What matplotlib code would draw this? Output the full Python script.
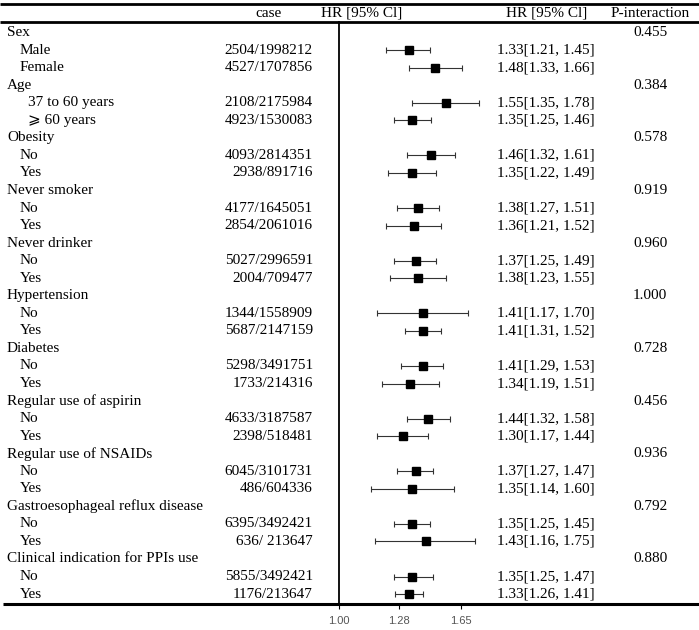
import numpy as np
import matplotlib
matplotlib.use("Agg")
import matplotlib.pyplot as plt
import matplotlib.transforms as mtransforms
from matplotlib.ticker import NullLocator, FixedLocator, FixedFormatter

# ---------------- data ----------------
groups = ["Sex", "Age", "Obesity", "Never smoker", "Never drinker", "Hypertension",
          "Diabetes", "Regular use of aspirin", "Regular use of NSAIDs",
          "Gastroesophageal reflux disease", "Clinical indication for PPIs use"]
p_interaction = ["0.455", "0.384", "0.578", "0.919", "0.960", "1.000",
                 "0.728", "0.456", "0.936", "0.792", "0.880"]
sub_labels = [["Male", "Female"], ["37 to 60 years", "\u2a7e 60 years"],
              ["No", "Yes"], ["No", "Yes"], ["No", "Yes"], ["No", "Yes"],
              ["No", "Yes"], ["No", "Yes"], ["No", "Yes"], ["No", "Yes"],
              ["No", "Yes"]]
cases = ["2504/1998212", "4527/1707856", "2108/2175984", "4923/1530083",
         "4093/2814351", "2938/891716", "4177/1645051", "2854/2061016",
         "5027/2996591", "2004/709477", "1344/1558909", "5687/2147159",
         "5298/3491751", "1733/214316", "4633/3187587", "2398/518481",
         "6045/3101731", "486/604336", "6395/3492421", "636/ 213647",
         "5855/3492421", "1176/213647"]
hr = [1.33, 1.48, 1.55, 1.35, 1.46, 1.35, 1.38, 1.36, 1.37, 1.38, 1.41,
      1.41, 1.41, 1.34, 1.44, 1.30, 1.37, 1.35, 1.35, 1.43, 1.35, 1.33]
ci_low = [1.21, 1.33, 1.35, 1.25, 1.32, 1.22, 1.27, 1.21, 1.25, 1.23, 1.17,
          1.31, 1.29, 1.19, 1.32, 1.17, 1.27, 1.14, 1.25, 1.16, 1.25, 1.26]
ci_high = [1.45, 1.66, 1.78, 1.46, 1.61, 1.49, 1.51, 1.52, 1.49, 1.55, 1.70,
           1.52, 1.53, 1.51, 1.58, 1.44, 1.47, 1.60, 1.45, 1.75, 1.47, 1.41]
x_ticks = [1.00, 1.28, 1.65]
x_tick_labels = ["1.00", "1.28", "1.65"]

# ---------------- layout ----------------
W, H = 699, 630
fig = plt.figure(figsize=(W / 100, H / 100), dpi=100)
serif = ["Liberation Serif", "DejaVu Serif", "DejaVu Sans"]
FS = 11

bg = fig.add_axes([0, 0, 1, 1])
bg.set_xlim(0, W)
bg.set_ylim(H, 0)
bg.axis("off")

row0, drow = 32.5, 17.55
y_top_line, y_head_line, y_bot_line = 4.0, 21.7, 604.3
x_zero, x_right = 339.3, 482.0
px_per_ln = 243.0

fa = fig.add_axes([x_zero / W, (H - y_bot_line) / H,
                   (x_right - x_zero) / W, (y_bot_line - y_head_line) / H])
fa.set_xscale("log")
fa.set_xlim(1.0, float(np.exp((x_right - x_zero) / px_per_ln)))
fa.set_ylim((y_bot_line - row0) / drow, (y_head_line - row0) / drow)
fa.patch.set_alpha(0)
for s in ["top", "right", "bottom"]:
    fa.spines[s].set_visible(False)
fa.spines["left"].set_linewidth(1.3)
fa.yaxis.set_major_locator(NullLocator())
fa.yaxis.set_minor_locator(NullLocator())
fa.xaxis.set_minor_locator(NullLocator())
fa.xaxis.set_major_locator(FixedLocator(x_ticks))
fa.xaxis.set_major_formatter(FixedFormatter(x_tick_labels))
fa.tick_params(axis="x", direction="out", length=3.5, width=0.8, pad=5,
               labelsize=8, labelcolor="#555555", colors="black")
for lab in fa.get_xticklabels():
    lab.set_fontfamily(["Liberation Sans", "DejaVu Sans"])
    lab.set_color("#555555")

tr = mtransforms.blended_transform_factory(bg.transData, fa.transData)

# horizontal rules
bg.plot([0, W], [y_top_line, y_top_line], color="black", lw=2.0, solid_capstyle="butt")
bg.plot([0, W], [y_head_line, y_head_line], color="black", lw=2.0, solid_capstyle="butt")
bg.plot([3, W], [y_bot_line, y_bot_line], color="black", lw=2.2, solid_capstyle="butt")

# headers
hy = 13.3
bg.text(268.5, hy, "case", ha="center", va="center", fontsize=FS, family=serif)
bg.text(362, hy, "HR [95% Cl]", ha="center", va="center", fontsize=FS, family=serif)
bg.text(546.5, hy, "HR [95% Cl]", ha="center", va="center", fontsize=FS, family=serif)
bg.text(650, hy, "P-interaction", ha="center", va="center", fontsize=FS, family=serif)

# rows
row = 0
k = 0
rows_sub = []
for gi, g in enumerate(groups):
    bg.text(7, row, g, transform=tr, ha="left", va="center", fontsize=FS, family=serif)
    bg.text(650, row, p_interaction[gi], transform=tr, ha="center", va="center",
            fontsize=FS, family=serif)
    row += 1
    indent = 28 if g == "Age" else 20
    for lab in sub_labels[gi]:
        bg.text(indent, row, lab, transform=tr, ha="left", va="center",
                fontsize=FS, family=serif)
        bg.text(312.7, row, cases[k], transform=tr, ha="right", va="center",
                fontsize=FS, family=serif)
        bg.text(497, row, f"{hr[k]:.2f}[{ci_low[k]:.2f}, {ci_high[k]:.2f}]",
                transform=tr, ha="left", va="center", fontsize=FS, family=serif)
        rows_sub.append(row)
        row += 1
        k += 1

hr_a = np.array(hr)
err = np.vstack([hr_a - np.array(ci_low), np.array(ci_high) - hr_a])
fa.errorbar(hr_a, rows_sub, xerr=err, fmt="s", color="black", ms=5.2,
            ecolor="#333333", elinewidth=0.8, capsize=2.2, capthick=0.8,
            clip_on=False, zorder=3)

fig.savefig("out.png", dpi=100)
